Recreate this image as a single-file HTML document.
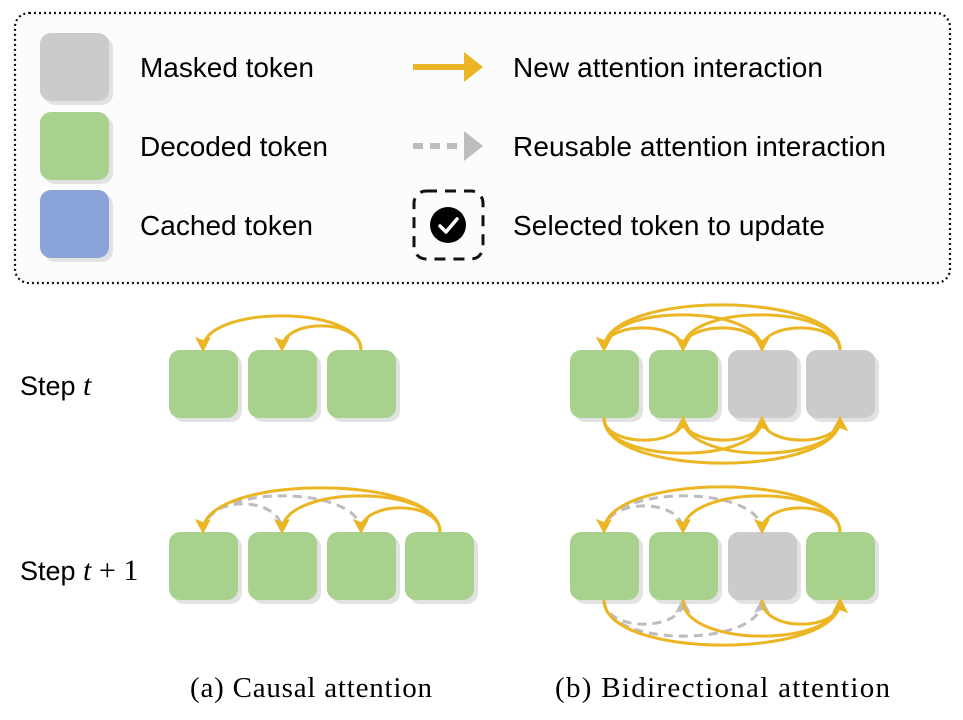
<!DOCTYPE html>
<html><head><meta charset="utf-8"><style>
html,body{margin:0;padding:0;background:#fff;}
svg{display:block;}
text{font-family:"Liberation Sans",sans-serif;}
</style></head><body>
<svg id="s" width="963" height="720" viewBox="0 0 963 720" xmlns="http://www.w3.org/2000/svg">
<defs>
<marker id="ag" markerUnits="userSpaceOnUse" markerWidth="18" markerHeight="18" refX="12" refY="8" orient="auto"><path d="M0,0 L15,8 L0,16 L3,8 Z" fill="#EBB523"/></marker>
<marker id="ay" markerUnits="userSpaceOnUse" markerWidth="18" markerHeight="18" refX="12" refY="8" orient="auto"><path d="M0,0 L15,8 L0,16 L3,8 Z" fill="#BDBDBD"/></marker>
</defs>
<rect x="0" y="0" width="963" height="720" fill="#fff"/>
<rect x="15" y="13" width="935" height="270" rx="14" fill="#fcfcfc" stroke="#111" stroke-width="2.2" stroke-dasharray="2 3"/>
<g id="tok"></g>
<text x="140" y="77" font-size="28" textLength="174">Masked token</text>
<text x="140" y="156" font-size="28" textLength="188">Decoded token</text>
<text x="140" y="235" font-size="28" textLength="173">Cached token</text>
<text x="513" y="77" font-size="28" textLength="310">New attention interaction</text>
<text x="513" y="156" font-size="28" textLength="373">Reusable attention interaction</text>
<text x="513" y="235" font-size="28" textLength="312">Selected token to update</text>
<line x1="413" y1="67" x2="464" y2="67" stroke="#EBB523" stroke-width="6"/>
<path d="M464,52 L483,67 L464,82 Z" fill="#EBB523"/>
<line x1="413" y1="146" x2="462" y2="146" stroke="#BDBDBD" stroke-width="6" stroke-dasharray="10 7"/>
<path d="M464,131 L483,146 L464,161 Z" fill="#BDBDBD"/>
<rect x="414" y="191" width="69" height="68" rx="12" fill="none" stroke="#111" stroke-width="3" stroke-dasharray="11 8"/>
<circle cx="448" cy="225" r="18" fill="#000"/>
<path d="M440,226 L446,232 L457,219" fill="none" stroke="#fff" stroke-width="3.5" stroke-linecap="round" stroke-linejoin="round"/>
<text x="20" y="395" font-size="27">Step <tspan font-family="Liberation Serif" font-style="italic" font-size="30">t</tspan></text>
<text x="20" y="580" font-size="27">Step <tspan font-family="Liberation Serif" font-style="italic" font-size="30">t</tspan> <tspan font-family="Liberation Serif" font-size="30">+ 1</tspan></text>
<text x="190" y="697" font-size="29" textLength="242" style="font-family:'Liberation Serif',serif">(a) Causal attention</text>
<text x="555" y="697" font-size="29" textLength="335" style="font-family:'Liberation Serif',serif">(b) Bidirectional attention</text>
<g id="arcs"></g>
</svg>
<script>
var NS="http://www.w3.org/2000/svg";
var tok=document.getElementById('tok'),arcs=document.getElementById('arcs');
function sq(x,y,c){
 var s=document.createElementNS(NS,'rect');s.setAttribute('x',x+4);s.setAttribute('y',y+4);s.setAttribute('width',69);s.setAttribute('height',68);s.setAttribute('rx',11);s.setAttribute('fill','#e2e2e2');tok.appendChild(s);
 var r=document.createElementNS(NS,'rect');r.setAttribute('x',x);r.setAttribute('y',y);r.setAttribute('width',69);r.setAttribute('height',68);r.setAttribute('rx',11);r.setAttribute('fill',c);tok.appendChild(r);
}
var G='#A9D18E',M='#CBCBCB',B='#8AA3D9';
sq(40,33,M);sq(40,112,G);sq(40,190,B);
[169,248,327].forEach(function(x){sq(x,350,G)});
[169,248,327,405].forEach(function(x){sq(x,532,G)});
sq(570,350,G);sq(649,350,G);sq(728,350,M);sq(806,350,M);
sq(570,532,G);sq(649,532,G);sq(728,532,M);sq(806,532,G);
function arc(x1,x2,y,d,dir,dash){
 var c=d/0.75;
 var p=document.createElementNS(NS,'path');
 p.setAttribute('d','M'+x1+','+y+' C'+x1+','+(y+dir*c)+' '+x2+','+(y+dir*c)+' '+x2+','+(y+dir*1));
 p.setAttribute('fill','none');
 p.setAttribute('stroke',dash?'#BDBDBD':'#EBB523');
 p.setAttribute('stroke-width',3);
 if(dash)p.setAttribute('stroke-dasharray','9 6');
 p.setAttribute('marker-end',dash?'url(#ay)':'url(#ag)');
 arcs.appendChild(p);
}
arc(361,282,350,24,-1);arc(361,203,350,34,-1);
arc(203,361,532,36,-1,1);arc(203,282,532,28,-1,1);
arc(440,361,532,24,-1);arc(440,282,532,36,-1);arc(440,203,532,44,-1);
var c=[604,683,762,840];
for(var i=0;i<4;i++)for(var j=i+1;j<4;j++){var d=[0,22,35,45][j-i];arc(c[j],c[i],350,d,-1);arc(c[i],c[j],418,d,1);}
arc(604,762,532,36,-1,1);arc(604,683,532,26,-1,1);
arc(840,762,532,24,-1);arc(840,683,532,36,-1);arc(840,604,532,45,-1);
arc(604,683,600,24,1,1);arc(604,762,600,36,1,1);
arc(762,840,600,24,1);arc(683,840,600,36,1);arc(604,840,600,45,1);
</script>
</body></html>
